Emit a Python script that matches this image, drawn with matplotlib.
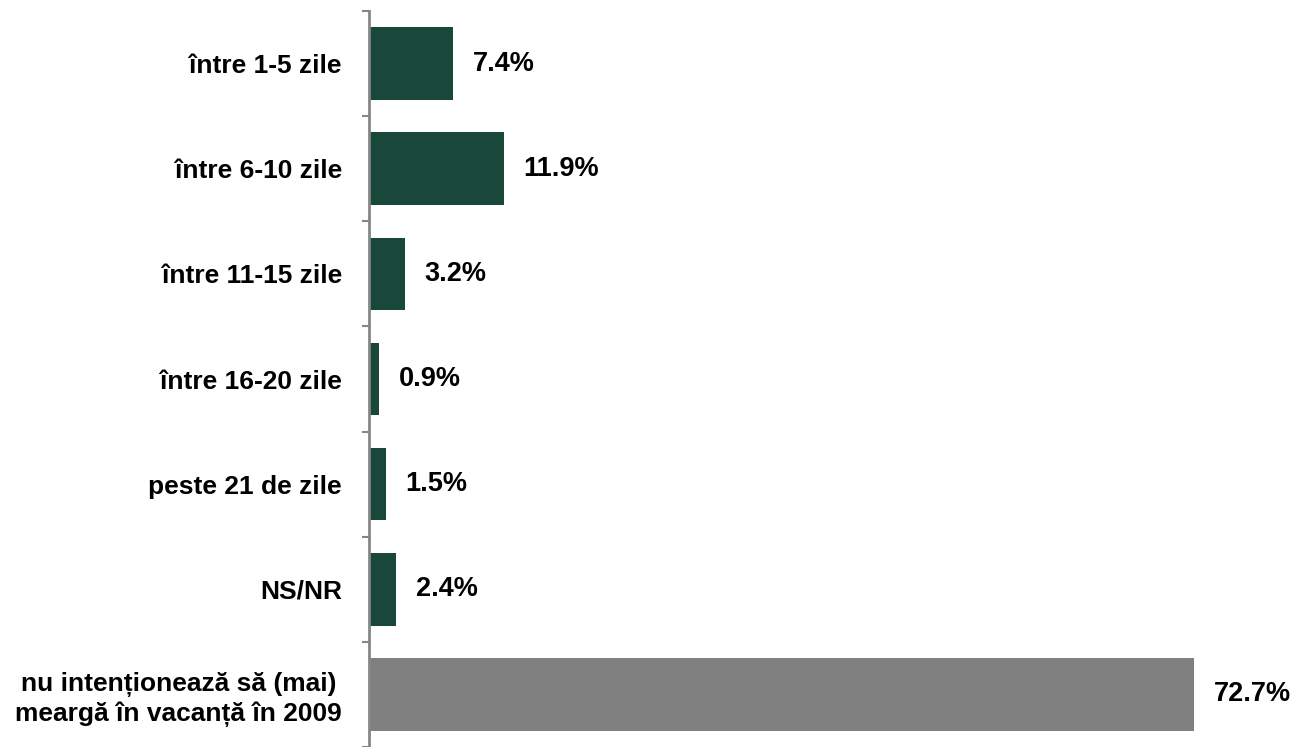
import numpy as np
import matplotlib.pyplot as plt

plt.rcParams['font.family'] = ['Liberation Sans', 'DejaVu Sans']

# Data
categories = ['între 1-5 zile', 'între 6-10 zile', 'între 11-15 zile', 'între 16-20 zile',
              'peste 21 de zile', 'NS/NR', 'nu intenționează să (mai)\nmeargă în vacanță în 2009']
values = [7.4, 11.9, 3.2, 0.9, 1.5, 2.4, 72.7]
colors = ['#19483a'] * 6 + ['#808080']

fig = plt.figure(figsize=(12.93, 7.47), dpi=100)
ax = fig.add_axes([369 / 1293, 0.0, 1 - 369 / 1293, 736 / 747])

y = np.arange(len(categories))
ax.barh(y, values, height=0.69, color=colors)
ax.set_ylim(len(categories) - 0.5, -0.5)
ax.set_xlim(0, 81.4)

for yi, v in zip(y, values):
    ax.annotate(f'{v:.1f}%', (v, yi), xytext=(14, 0), textcoords='offset points',
                ha='left', va='center', fontsize=19.5, fontweight='bold')

ax.set_yticks(y)
ax.set_yticklabels(categories, fontsize=19, fontweight='bold', ha='right',
                   multialignment='center')
ax.tick_params(axis='y', which='major', length=0, pad=19.5)
ax.set_yticks(np.arange(len(categories) + 1) - 0.5, minor=True)
ax.tick_params(axis='y', which='minor', length=5, width=1.5, color='#868686')
ax.set_xticks([])

for s in ['top', 'right', 'bottom']:
    ax.spines[s].set_visible(False)
ax.spines['left'].set_color('#868686')
ax.spines['left'].set_linewidth(2)

plt.savefig('out.png', dpi=100)
